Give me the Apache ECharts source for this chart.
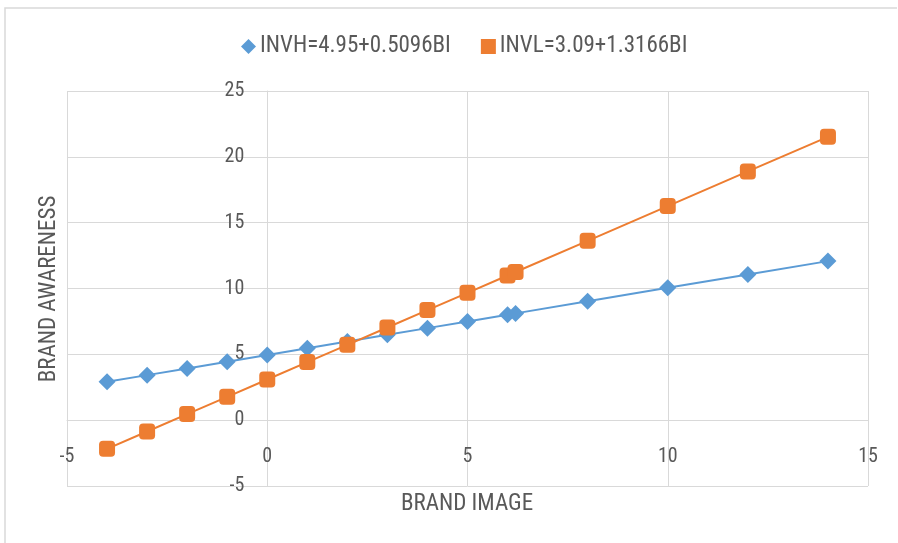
<!DOCTYPE html>
<html><head><meta charset="utf-8">
<script src="https://cdn.jsdelivr.net/npm/echarts@6/dist/echarts.min.js"></script>
<style>html,body{margin:0;padding:0;background:#fff}#c{width:898px;height:543px}</style>
</head><body><div id="c"></div>
<script>
const xValues = [-4, -3, -2, -1, 0, 1, 2, 3, 4, 5, 6, 6.2, 8, 10, 12, 14];
const invhValues = [2.91, 3.42, 3.93, 4.44, 4.95, 5.46, 5.97, 6.48, 6.99, 7.50, 8.01, 8.11, 9.03, 10.05, 11.07, 12.08];
const invlValues = [-2.18, -0.86, 0.46, 1.77, 3.09, 4.41, 5.72, 7.04, 8.36, 9.67, 10.99, 11.25, 13.62, 16.26, 18.89, 21.52];
const seriesNames = ['INVH=4.95+0.5096BI', 'INVL=3.09+1.3166BI'];
const xTitle = 'BRAND IMAGE';
const yTitle = 'BRAND AWARENESS';

const FONT = '"Liberation Sans Narrow", "Roboto Condensed", "Arial Narrow", sans-serif';
const TXT = '#595959';
const GRID = '#d9d9d9';

const G = { left: 67, right: 30, top: 91, bottom: 57 };
const W = 898, H = 543;
const X_MIN = -5, X_MAX = 15, Y_MIN = -5, Y_MAX = 25;
const gw = W - G.left - G.right, gh = H - G.top - G.bottom;
// move the axis lines to cross at the origin
const xAxisOffset = -gh * (0 - Y_MIN) / (Y_MAX - Y_MIN);
const yAxisOffset = -gw * (0 - X_MIN) / (X_MAX - X_MIN);

const chart = echarts.init(document.getElementById('c'));
chart.setOption({
  animation: false,
  textStyle: { fontFamily: FONT },
  legend: {
    top: 30, left: 236, itemGap: 30, itemWidth: 15, itemHeight: 15,
    textStyle: { fontFamily: FONT, fontSize: 23, color: TXT, padding: [0, 0, 0, -1] },
    data: [{ name: seriesNames[0], icon: 'diamond' }, { name: seriesNames[1], icon: 'rect' }]
  },
  grid: { left: G.left, right: G.right, top: G.top, bottom: G.bottom, containLabel: false },
  xAxis: {
    type: 'value', min: X_MIN, max: X_MAX, interval: 5, position: 'bottom', offset: xAxisOffset,
    axisLine: { show: true, onZero: false, lineStyle: { color: GRID, width: 1 } },
    axisTick: { show: false },
    axisLabel: { margin: 27, fontFamily: FONT, fontSize: 20, color: TXT },
    splitLine: { show: true, lineStyle: { color: GRID, width: 1 } }
  },
  yAxis: {
    type: 'value', min: Y_MIN, max: Y_MAX, interval: 5, position: 'left', offset: yAxisOffset,
    axisLine: { show: true, onZero: false, lineStyle: { color: GRID, width: 1 } },
    axisTick: { show: false },
    axisLabel: { margin: 23, fontFamily: FONT, fontSize: 20, color: TXT },
    splitLine: { show: true, lineStyle: { color: GRID, width: 1 } }
  },
  graphic: [
    { type: 'polyline', shape: { points: [[5, 543], [5, 8], [897, 8]] }, style: { fill: null, stroke: GRID, lineWidth: 1.5 }, silent: true },
    { type: 'text', x: 467, y: 504, style: { text: xTitle, font: '23px ' + FONT, fill: TXT, align: 'center', verticalAlign: 'middle' } },
    { type: 'text', rotation: Math.PI / 2, x: 49, y: 289, style: { text: yTitle, font: '23px ' + FONT, fill: TXT, align: 'center', verticalAlign: 'middle' } }
  ],
  series: [
    {
      name: seriesNames[0], type: 'line',
      data: xValues.map((x, i) => [x, invhValues[i]]),
      symbol: 'diamond', symbolSize: 17,
      itemStyle: { color: '#5B9BD5' },
      lineStyle: { color: '#5B9BD5', width: 2 }, z: 2
    },
    {
      name: seriesNames[1], type: 'line',
      data: xValues.map((x, i) => [x, invlValues[i]]),
      symbol: 'roundRect', symbolSize: 16,
      itemStyle: { color: '#ED7D31' },
      lineStyle: { color: '#ED7D31', width: 2 }, z: 3
    }
  ]
});
</script></body></html>
